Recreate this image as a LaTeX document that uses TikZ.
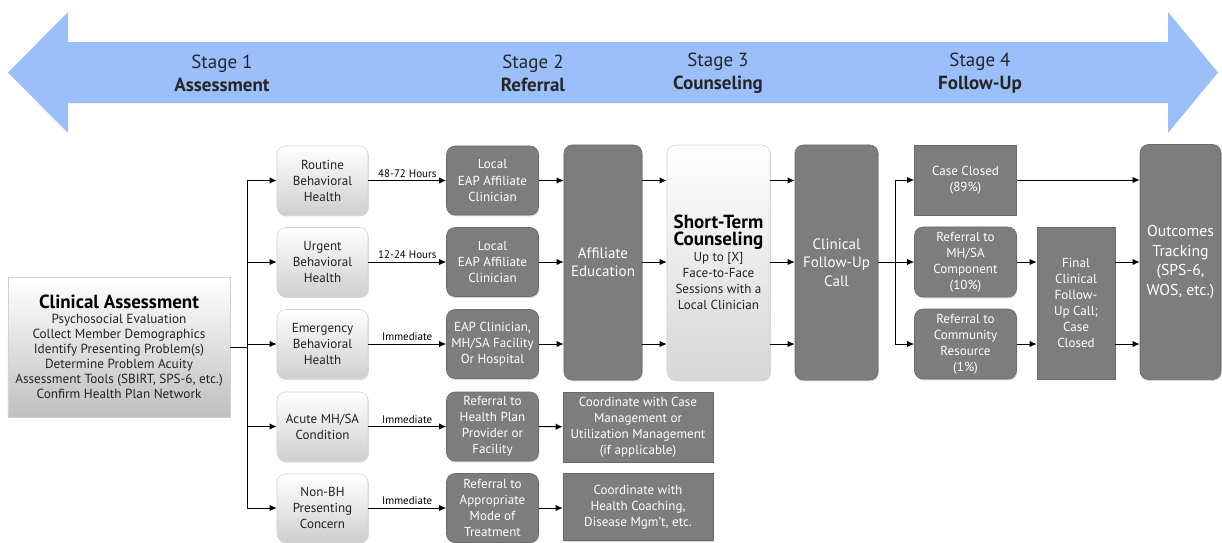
\documentclass[tikz,border=0pt]{standalone}
\usepackage{fontspec}
\setmainfont{PT Sans}
\usepackage{tikz}
\usetikzlibrary{positioning, arrows.meta, shadows, calc}
\definecolor{StageBlue}{RGB}{155,191,250}
\definecolor{BoxGray}{RGB}{125,125,125}
\definecolor{TextDark}{RGB}{35,35,35}
\newcommand{\bodyfont}{\fontsize{9.3}{11.4}\selectfont}
\newcommand{\bigfont}{\fontsize{10.7}{13}\selectfont}
\newcommand{\titlefont}{\fontsize{13.5}{17}\selectfont\bfseries\color{black}}
\tikzset{
  boxshadow/.style={drop shadow={opacity=0.3, shadow xshift=0.6pt, shadow yshift=-1pt}},
  darkbox/.style={fill=BoxGray, draw=BoxGray!85!black, rounded corners=6pt, text=white,
    align=center, font=\bodyfont, inner sep=1pt, boxshadow},
  sqbox/.style={darkbox, rounded corners=0pt},
  lightbox/.style={top color=white, bottom color=gray!38, draw=gray!35, rounded corners=6pt,
    text=TextDark, align=center, font=\bodyfont, inner sep=1pt, boxshadow},
  link/.style={-{Latex[length=5pt, width=4.5pt]}, line width=0.7pt, black},
  wire/.style={line width=0.7pt, black},
  timelabel/.style={font=\fontsize{7.8}{9}\selectfont, above, inner sep=2pt, text=black},
  stagelabel/.style={align=center, font=\fontsize{13.5}{16.5}\selectfont, text=black!85},
}

\begin{document}
\begin{tikzpicture}[x=0.025cm, y=-0.025cm]
  \useasboundingbox (0,0) rectangle (1222,542);
  % stage arrow
  \fill[StageBlue] (8,72.5) -- (68,12) -- (68,42) -- (1168,42) -- (1168,12) -- (1218,72.5)
    -- (1168,133) -- (1168,103) -- (68,103) -- (68,133) -- cycle;
  \foreach \x/\s/\n in {222/1/Assessment, 533/2/Referral, 718/3/Counseling, 980/4/Follow-Up}
    \node[stagelabel] (stage\s) at (\x,73) {Stage \s\\\textbf{\n}};

  % assessment
  \node[lightbox, rounded corners=0pt, bottom color=gray!50, minimum width=5.55cm, minimum height=3.5cm,
    font=\fontsize{9.4}{10.7}\selectfont] (ca) at (119,347)
    {{\titlefont Clinical Assessment}\\Psychosocial Evaluation\\
     Collect Member Demographics\\Identify Presenting Problem(s)\\Determine Problem Acuity\\
     Assessment Tools (SBIRT, SPS-6, etc.)\\Confirm Health Plan Network};

  % type of need
  \node[lightbox, minimum width=2.275cm, minimum height=1.725cm] (rb) at (322.5,180.5) {Routine\\Behavioral\\Health};
  \node[lightbox, minimum width=2.275cm, minimum height=1.725cm] (ub) at (322.5,262) {Urgent\\Behavioral\\Health};
  \node[lightbox, minimum width=2.275cm, minimum height=1.725cm] (eb) at (322.5,344) {Emergency\\Behavioral\\Health};
  \node[lightbox, minimum width=2.275cm, minimum height=1.725cm] (am) at (322.5,426.5) {Acute MH/SA\\Condition};
  \node[lightbox, minimum width=2.275cm, minimum height=1.7cm] (nb) at (322.5,508) {Non-BH\\Presenting\\Concern};

  % referral
  \node[darkbox, minimum width=2.3cm, minimum height=1.725cm] (l1) at (492.5,180.5) {Local\\EAP Affiliate\\Clinician};
  \node[darkbox, minimum width=2.3cm, minimum height=1.725cm] (l2) at (492.5,262) {Local\\EAP Affiliate\\Clinician};
  \node[darkbox, minimum width=2.3cm, minimum height=1.725cm] (ec) at (492.5,344) {EAP Clinician,\\MH/SA Facility\\Or Hospital};
  \node[darkbox, minimum width=2.3cm, minimum height=1.725cm] (hp) at (492.5,426.5) {Referral to\\Health Plan\\Provider or\\Facility};
  \node[darkbox, minimum width=2.3cm, minimum height=1.725cm] (mt) at (492.5,508) {Referral to\\Appropriate\\Mode of\\Treatment};

  \node[darkbox, minimum width=1.95cm, minimum height=5.875cm, font=\bigfont] (ae) at (603,262.5) {Affiliate\\Education};
  \node[sqbox, minimum width=3.75cm, minimum height=1.75cm] (cm) at (638,427)
    {Coordinate with Case\\Management or\\Utilization Management\\(if applicable)};
  \node[sqbox, minimum width=3.75cm, minimum height=1.675cm] (hc) at (638,507)
    {Coordinate with\\Health Coaching,\\Disease Mgm't, etc.};

  % counseling
  \node[lightbox, bottom color=gray!32, minimum width=2.575cm, minimum height=5.875cm] (st) at (718.5,262.5)
    {{\titlefont Short-Term}\\[1pt]{\titlefont Counseling}\\Up to [X]\\Face-to-Face\\
     Sessions with a\\Local Clinician};

  % follow-up
  \node[darkbox, minimum width=2.075cm, minimum height=5.875cm, font=\bigfont] (fu) at (836.5,262.5) {Clinical\\Follow-Up\\Call};
  \node[sqbox, minimum width=2.55cm, minimum height=1.75cm] (cc) at (965.5,180) {Case Closed\\(89\%)};
  \node[darkbox, minimum width=2.55cm, minimum height=1.75cm] (mh) at (965.5,262) {Referral to\\MH/SA\\Component\\(10\%)};
  \node[darkbox, minimum width=2.55cm, minimum height=1.75cm] (cr) at (965.5,344) {Referral to\\Community\\Resource\\(1\%)};
  \node[sqbox, minimum width=1.95cm, minimum height=3.8cm] (fc) at (1076,303) {Final\\Clinical\\Follow-\\Up Call;\\Case\\Closed};
  \node[darkbox, minimum width=2.025cm, minimum height=5.875cm, font=\fontsize{11.2}{14}\selectfont] (ot) at (1180.5,262)
    {Outcomes\\Tracking\\(SPS-6,\\WOS, etc.)};

  % connectors
  \draw[wire] (ca.east) -- ++(17,0) coordinate (tr);
  \draw[wire] (tr |- rb) -- (tr |- nb);
  \foreach \n in {rb,ub,eb,am,nb}
    \draw[link] (tr |- \n) -- (\n.west);
  \draw[link] (rb) -- node[timelabel] {48-72 Hours} (l1);
  \draw[link] (ub) -- node[timelabel] {12-24 Hours} (l2);
  \draw[link] (eb) -- node[timelabel] {Immediate} (ec);
  \draw[link] (am) -- node[timelabel] {Immediate} (hp);
  \draw[link] (nb) -- node[timelabel] {Immediate} (mt);
  \foreach \n in {l1,l2,ec} {
    \draw[link] (\n.east) -- (\n.east -| ae.west);
    \draw[link] (ae.east |- \n) -- (st.west |- \n);
    \draw[link] (st.east |- \n) -- (fu.west |- \n);
  }
  \draw[link] (hp) -- (cm);
  \draw[link] (mt.east) -- (mt.east -| hc.west);

  \draw[wire] (fu.east |- mh) -- ++(17,0) coordinate (br);
  \draw[wire] (br |- cc) -- (br |- cr);
  \foreach \n in {cc,mh,cr}
    \draw[link] (br |- \n) -- (\n.west);
  \draw[link] (cc.east) -- (cc.east -| ot.west);
  \foreach \n in {mh,cr} {
    \draw[link] (\n.east) -- (\n.east -| fc.west);
    \draw[link] (fc.east |- \n) -- (ot.west |- \n);
  }
\end{tikzpicture}
\end{document}
